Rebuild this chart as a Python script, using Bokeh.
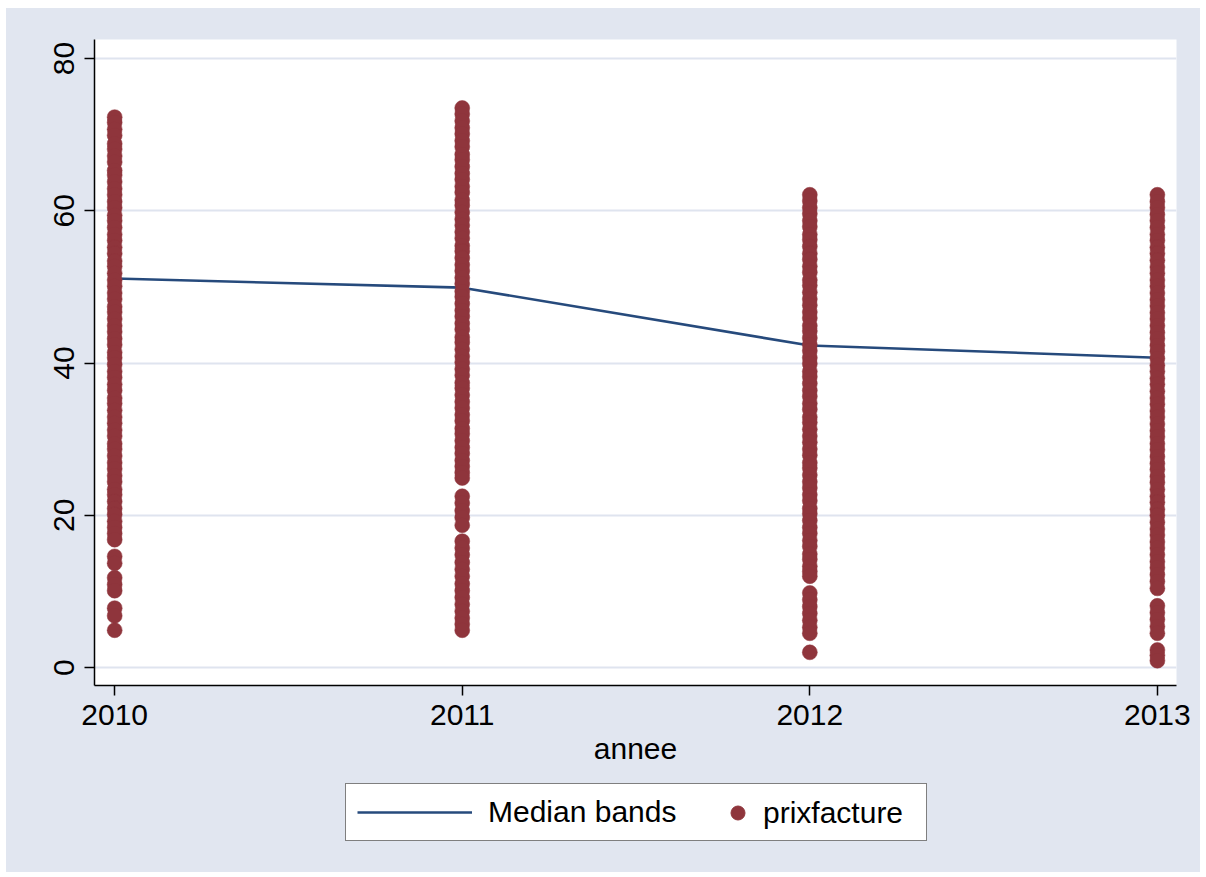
from bokeh.plotting import figure
from bokeh.layouts import column
from bokeh.models import Range1d, FixedTicker, Legend, LegendItem
from bokeh.embed import file_html
from bokeh.resources import INLINE

# ---- data ----
years = [2010, 2011, 2012, 2013]
median_bands = [51.1, 49.9, 42.3, 40.7]

prix_2010 = [72.3, 71.6, 70.7, 69.9, 68.8, 68.1, 67.2, 66.4, 65.3, 64.7, 63.8, 62.9,
             62.1, 61.2, 60.4, 59.4, 58.7, 57.8, 56.9, 56.1, 55.2, 54.4, 53.4, 52.7,
             51.8, 50.9, 50.1, 49.2, 48.4, 47.4, 46.7, 45.8, 44.9, 44.1, 43.2, 42.4,
             41.4, 40.7, 39.8, 38.9, 38.1, 37.2, 36.4, 35.4, 34.7, 33.8, 32.9, 32.1,
             31.2, 30.4, 29.4, 28.7, 27.8, 26.9, 26.1, 25.2, 24.4, 23.4, 22.7, 21.8,
             20.9, 20.1, 19.2, 18.4, 17.6, 16.8,
             14.6, 13.7, 11.8, 10.9, 10.1, 7.8, 6.8, 4.9]

prix_2011 = [73.5, 72.7, 71.8, 70.9, 70.1, 69.2, 68.4, 67.4, 66.7, 65.8, 64.9, 64.1,
             63.2, 62.4, 61.4, 60.7, 59.8, 58.9, 58.1, 57.2, 56.4, 55.4, 54.7, 53.8,
             52.9, 52.1, 51.2, 50.4, 49.4, 48.7, 47.8, 46.9, 46.1, 45.2, 44.4, 43.4,
             42.7, 41.8, 40.9, 40.1, 39.2, 38.4, 37.4, 36.7, 35.8, 34.9, 34.1, 33.2,
             32.4, 31.4, 30.7, 29.8, 28.9, 28.1, 27.2, 26.4, 25.6, 24.9,
             22.5, 21.6, 20.6, 19.7, 18.7,
             16.6, 15.7, 14.8, 13.8, 12.9, 12.0, 11.0, 10.1, 9.2, 8.3, 7.4, 6.5, 5.7, 4.9]

prix_2012 = [62.1, 61.3, 60.4, 59.6, 58.7, 57.9, 56.9, 56.2, 55.3, 54.4, 53.6, 52.7,
             51.9, 50.9, 50.2, 49.3, 48.4, 47.6, 46.7, 45.9, 44.9, 44.2, 43.3, 42.4,
             41.6, 40.7, 39.9, 38.9, 38.2, 37.3, 36.4, 35.6, 34.7, 33.9, 32.9, 32.2,
             31.3, 30.4, 29.6, 28.7, 27.9, 26.9, 26.2, 25.3, 24.4, 23.6, 22.7, 21.9,
             20.9, 20.2, 19.3, 18.4, 17.6, 16.7, 15.9, 14.9, 14.2, 13.3, 12.6, 12.0,
             9.8, 8.9, 8.0, 7.1, 6.2, 5.3, 4.5, 2.0]

prix_2013 = [62.1, 61.2, 60.4, 59.5, 58.7, 57.8, 56.9, 56.1, 55.2, 54.4, 53.5, 52.6,
             51.8, 50.9, 50.1, 49.2, 48.3, 47.5, 46.6, 45.8, 44.9, 44.0, 43.2, 42.3,
             41.5, 40.6, 39.7, 38.9, 38.0, 37.2, 36.3, 35.4, 34.6, 33.7, 32.9, 32.0,
             31.1, 30.3, 29.4, 28.6, 27.7, 26.8, 26.0, 25.1, 24.3, 23.4, 22.5, 21.7,
             20.8, 20.0, 19.1, 18.2, 17.4, 16.5, 15.7, 14.8, 13.9, 13.1, 12.2, 11.3, 10.4,
             8.1, 7.2, 6.3, 5.4, 4.5, 2.3, 1.6, 0.9]

y_ticks = [0, 20, 40, 60, 80]
x_ticks = [2010, 2011, 2012, 2013]

# ---- build scatter columns ----
prix_by_year = [prix_2010, prix_2011, prix_2012, prix_2013]
sx, sy = [], []
for yr, vals in zip(years, prix_by_year):
    sx.extend([yr] * len(vals))
    sy.extend(vals)

BG = "#e1e6f0"
FONT = "Liberation Sans"
FS = "30px"
LINE_COLOR = "#264a7c"
DOT_COLOR = "#8f353c"

p = figure(width=1194, height=767, output_backend="svg", toolbar_location=None,
           x_range=Range1d(2009.942, 2013.055), y_range=Range1d(-2.36, 82.5),
           min_border_left=88, min_border_right=24, min_border_top=31,
           min_border_bottom=90)
p.border_fill_color = BG
p.background_fill_color = "white"
p.outline_line_color = None

line_r = p.line(years, median_bands, line_color=LINE_COLOR, line_width=2.6)
pts_r = p.scatter(sx, sy, size=15, fill_color=DOT_COLOR, line_color=DOT_COLOR,
                  line_width=0.5)

for ax in (p.xaxis[0], p.yaxis[0]):
    ax.axis_line_color = "black"
    ax.axis_line_width = 1.5
    ax.major_tick_line_color = "black"
    ax.major_tick_line_width = 1.5
    ax.major_tick_out = 10
    ax.major_tick_in = 0
    ax.minor_tick_line_color = None
    ax.major_label_text_font = FONT
    ax.major_label_text_font_size = FS
    ax.major_label_text_color = "black"
    ax.axis_label_text_font = FONT
    ax.axis_label_text_font_size = FS
    ax.axis_label_text_font_style = "normal"
    ax.axis_label_text_color = "black"

p.xaxis.ticker = FixedTicker(ticks=x_ticks)
p.yaxis.ticker = FixedTicker(ticks=y_ticks)
p.xaxis.axis_label = "annee"
p.xaxis.major_label_standoff = 9
p.xaxis.axis_label_standoff = 4
p.yaxis.major_label_orientation = "vertical"
p.yaxis.major_label_standoff = 10

p.xgrid.grid_line_color = None
p.ygrid.grid_line_color = "#dfe4ef"
p.ygrid.grid_line_width = 2

# ---- legend strip below the plot ----
p2 = figure(width=1194, height=97, output_backend="svg", toolbar_location=None,
            x_range=Range1d(0, 1), y_range=Range1d(0, 1),
            x_axis_type=None, y_axis_type=None,
            min_border_left=0, min_border_right=0, min_border_top=0,
            min_border_bottom=0)
p2.border_fill_color = BG
p2.background_fill_color = None
p2.outline_line_color = None
p2.grid.visible = False

# legend sample glyphs (kept outside the visible range of the strip)
leg_line = p2.line(x=[5, 6], y=[5, 6], line_color=LINE_COLOR, line_width=2.6)
leg_dot = p2.scatter(x=[5], y=[5], size=15, fill_color=DOT_COLOR, line_color=DOT_COLOR)

leg1 = Legend(items=[LegendItem(label="Median bands", renderers=[leg_line])],
              location=(251, 31), orientation="horizontal",
              glyph_width=115, glyph_height=20, label_standoff=16,
              label_width=427, padding=11,
              border_line_color="black", border_line_width=1.5,
              background_fill_color="white", background_fill_alpha=1.0,
              label_text_font=FONT, label_text_font_size=FS,
              label_text_color="black")
leg2 = Legend(items=[LegendItem(label="prixfacture", renderers=[leg_dot])],
              location=(626, 42), orientation="horizontal",
              glyph_width=35, glyph_height=35, label_standoff=8, padding=0,
              border_line_alpha=0, background_fill_alpha=0,
              label_text_font=FONT, label_text_font_size=FS,
              label_text_color="black")
p2.add_layout(leg1, "center")
p2.add_layout(leg2, "center")

layout = column(p, p2, spacing=0, margin=(8, 0, 0, 6),
                styles={"background-color": BG})
open("out.html", "w").write(file_html(layout, INLINE))
